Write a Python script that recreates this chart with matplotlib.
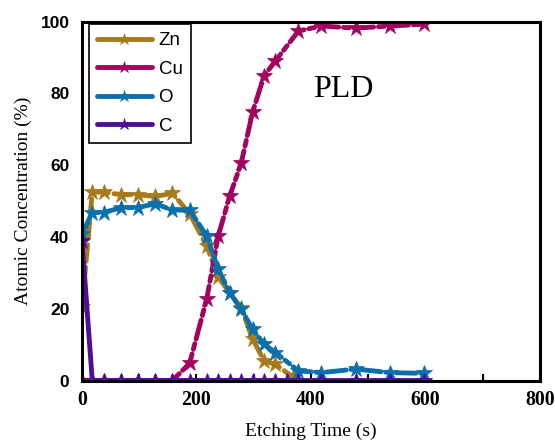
import matplotlib
matplotlib.use("Agg")
import matplotlib.pyplot as plt

# ---- data ----
t_zn = [0, 18, 38, 68, 98, 128, 158, 188, 218, 238, 258, 278, 298, 318, 338, 368, 378, 418, 478, 538, 598]
zn   = [20.5, 52.5, 52.5, 51.8, 51.8, 51.3, 52.2, 46.5, 37.5, 28.8, 24.5, 20.2, 11.6, 5.5, 4.5, 1.0, 0, 0, 0, 0, 0]

t_cu = [0, 18, 38, 68, 98, 128, 158, 188, 218, 238, 258, 278, 298, 318, 338, 378, 418, 478, 538, 598]
cu   = [0, 0, 0, 0, 0, 0, 0, 4.8, 22.8, 40.3, 51.4, 60.5, 74.8, 84.9, 89.1, 97.4, 98.8, 98.2, 98.8, 99.3]

t_o  = [0, 18, 38, 68, 98, 128, 158, 188, 218, 238, 258, 278, 298, 318, 338, 378, 418, 478, 538, 598]
o    = [40.8, 46.8, 46.8, 48.2, 48.2, 49.3, 47.5, 47.5, 40.3, 31.0, 24.5, 19.9, 14.3, 10.1, 7.8, 2.7, 2.2, 3.2, 2.2, 2.0]

t_c  = [0, 18, 38, 68, 98, 128, 158, 188, 218, 238, 258, 278, 298, 318, 338, 358, 378, 418, 478, 538, 598]
c    = [39, 0, 0, 0, 0, 0, 0, 0, 0, 0, 0, 0, 0, 0, 0, 0, 0, 0, 0, 0, 0]

series_names = ["Zn", "Cu", "O", "C"]
x_ticks = [0, 200, 400, 600, 800]
y_ticks = [0, 20, 40, 60, 80, 100]

colors = ["#A87A1C", "#A2035F", "#0A70AC", "#4E0E98"]
dashes = [(3.5, 1.2), (4, 1, 1.2, 1), (4, 1, 1.2, 1), (None)]

fig = plt.figure(figsize=(5.55, 4.43), dpi=100)
ax = fig.add_axes([0.1477, 0.141, 0.973 - 0.1477, 0.951 - 0.141])

data = [(t_zn, zn), (t_cu, cu), (t_o, o), (t_c, c)]
for (tx, ty), name, col, ds in zip(data, series_names, colors, dashes):
    line, = ax.plot(tx, ty, color=col, lw=3.5, marker="*", markersize=12,
                    markeredgewidth=0.5, markeredgecolor=col, label=name,
                    solid_capstyle="round", dash_capstyle="round")
    if ds is not None:
        line.set_dashes(ds)

ax.set_xlim(0, 800)
ax.set_ylim(0, 100)
ax.set_xticks(x_ticks)
ax.set_yticks(y_ticks)
ax.set_xticks(range(0, 801, 100), minor=True)
ax.tick_params(axis="x", which="both", direction="in", length=5, width=1.5, top=False)
ax.tick_params(axis="y", which="both", direction="in", length=0, right=False, pad=9)
ax.tick_params(axis="x", pad=7)

for lbl in ax.get_xticklabels():
    lbl.set_fontfamily("Liberation Serif")
    lbl.set_fontweight("bold")
    lbl.set_fontsize(14.3)
for lbl in ax.get_yticklabels():
    lbl.set_fontfamily("Liberation Sans")
    lbl.set_fontweight("bold")
    lbl.set_fontsize(12.5)

for sp in ax.spines.values():
    sp.set_linewidth(2.2)

ax.set_xlabel("Etching Time (s)", fontfamily="Liberation Serif", fontsize=14, labelpad=9)
ax.set_ylabel("Atomic Concentration (%)", fontfamily="Liberation Serif", fontsize=14, labelpad=6)

ax.text(456, 81.2, "PLD", fontfamily="Liberation Serif", fontsize=23, ha="center", va="center")

leg = ax.legend(loc="upper left", bbox_to_anchor=(0.015, 0.994), prop={"family": "Liberation Sans", "size": 13.5},
                handlelength=2.9, handletextpad=0.37, labelspacing=0.6, borderpad=0.45,
                borderaxespad=0.0, fancybox=False, framealpha=1, edgecolor="black")
leg.get_frame().set_linewidth(1.2)
for h in leg.get_lines():
    h.set_linestyle("-")
    h.set_linewidth(3.5)
    h.set_markersize(9)

fig.savefig("out.png", dpi=100)
